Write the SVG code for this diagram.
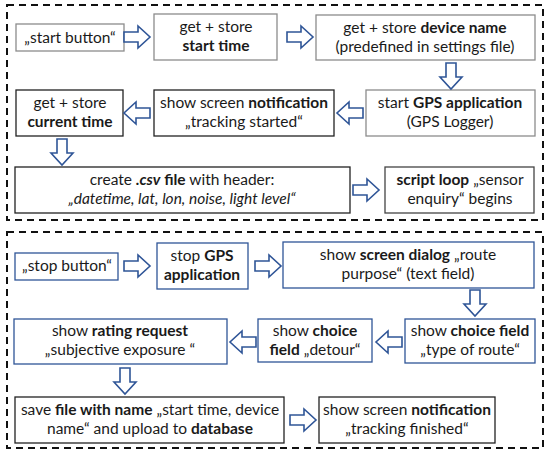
<svg xmlns="http://www.w3.org/2000/svg" width="550" height="456" viewBox="0 0 550 456">
<style>
text{font-family:Lato,"Open Sans","Liberation Sans",sans-serif;font-size:15.5px;fill:#1a1a1a;text-anchor:middle}
.b{font-weight:bold}
.i{font-style:italic}
.frame{fill:none;stroke:#111;stroke-width:2;stroke-dasharray:7 5}
.g{fill:#fff;stroke:#8c8c8c;stroke-width:1.3}
.k{fill:#fff;stroke:#222;stroke-width:1.3}
.d{fill:#fff;stroke:#444;stroke-width:1.3}
.bl{fill:#fff;stroke:#2f5597;stroke-width:1.3}
.arr{fill:#fff;stroke:#2f5597;stroke-width:1.6;stroke-linejoin:miter}
</style>
<defs>
<path id="ar" d="M0,-5 H14 V-11 L26,0 L14,11 V5 H0 Z"/>
</defs>
<rect class="frame" x="7" y="5" width="536" height="215"/>
<rect class="frame" x="7" y="232" width="536" height="216"/>

<g id="n1"><rect class="g" x="16" y="24" width="108" height="27"/><text x="70" y="43">„start button“</text></g>
<g id="n2"><rect class="g" x="154" y="14" width="123" height="46"/><text x="216" y="32">get + store</text><text x="216" y="51" class="b">start time</text></g>
<g id="n3"><rect class="g" x="316" y="15" width="219" height="45"/><text x="425" y="33">get + store <tspan class="b">device name</tspan></text><text x="425" y="52">(predefined in settings file)</text></g>
<g id="n4"><rect class="g" x="366" y="90" width="169" height="46"/><text x="450" y="108">start <tspan class="b">GPS application</tspan></text><text x="450" y="127">(GPS Logger)</text></g>
<g id="n5"><rect class="k" x="154" y="90" width="180" height="46"/><text x="244" y="108">show screen <tspan class="b">notification</tspan></text><text x="244" y="127">„tracking started“</text></g>
<g id="n6"><rect class="k" x="16" y="90" width="107" height="46"/><text x="70" y="108">get + store</text><text x="70" y="127" class="b">current time</text></g>
<g id="n7"><rect class="k" x="15" y="167" width="335" height="46"/><text x="182" y="185">create <tspan class="b i">.csv</tspan><tspan class="b"> file</tspan> with header:</text><text x="182" y="204" class="i">„datetime, lat, lon, noise, light level“</text></g>
<g id="n8"><rect class="d" x="385" y="167" width="149" height="46"/><text x="460" y="185"><tspan class="b">script loop</tspan> „sensor</text><text x="460" y="204">enquiry“ begins</text></g>

<g id="m1"><rect class="bl" x="15" y="253" width="103" height="27"/><text x="67" y="271">„stop button“</text></g>
<g id="m2"><rect class="bl" x="157" y="243" width="91" height="46"/><text x="202" y="261">stop <tspan class="b">GPS</tspan></text><text x="202" y="280" class="b">application</text></g>
<g id="m3"><rect class="bl" x="283" y="242" width="251" height="46"/><text x="408" y="260">show <tspan class="b">screen dialog</tspan> „route</text><text x="408" y="279">purpose“ (text field)</text></g>
<g id="m4"><rect class="bl" x="405" y="319" width="130" height="44"/><text x="470" y="336">show <tspan class="b">choice field</tspan></text><text x="470" y="355">„type of route“</text></g>
<g id="m5"><rect class="bl" x="258" y="319" width="114" height="43"/><text x="315" y="336">show <tspan class="b">choice</tspan></text><text x="315" y="355"><tspan class="b">field</tspan> „detour“</text></g>
<g id="m6"><rect class="bl" x="14" y="319" width="213" height="45"/><text x="120" y="336">show <tspan class="b">rating request</tspan></text><text x="120" y="355">„subjective exposure “</text></g>
<g id="m7"><rect class="k" x="15" y="397" width="269" height="46"/><text x="150" y="415">save <tspan class="b">file with name</tspan> „start time, device</text><text x="150" y="434">name“ and upload to <tspan class="b">database</tspan></text></g>
<g id="m8"><rect class="k" x="319" y="397" width="176" height="46"/><text x="407" y="415">show screen <tspan class="b">notification</tspan></text><text x="407" y="434">„tracking finished“</text></g>

<g id="connectors">
<use href="#ar" class="arr" transform="translate(124,37)"/>
<use href="#ar" class="arr" transform="translate(287,37)"/>
<use href="#ar" class="arr" transform="translate(451,63) rotate(90)"/>
<use href="#ar" class="arr" transform="translate(363,113) rotate(180)"/>
<use href="#ar" class="arr" transform="translate(150,113) rotate(180)"/>
<use href="#ar" class="arr" transform="translate(62,139) rotate(90)"/>
<use href="#ar" class="arr" transform="translate(353,190)"/>
<use href="#ar" class="arr" transform="translate(124,266)"/>
<use href="#ar" class="arr" transform="translate(255,266)"/>
<use href="#ar" class="arr" transform="translate(475,290) rotate(90)"/>
<use href="#ar" class="arr" transform="translate(402,342) rotate(180)"/>
<use href="#ar" class="arr" transform="translate(256,342) rotate(180)"/>
<use href="#ar" class="arr" transform="translate(125,368) rotate(90)"/>
<use href="#ar" class="arr" transform="translate(290,420)"/>
</g>
</svg>
